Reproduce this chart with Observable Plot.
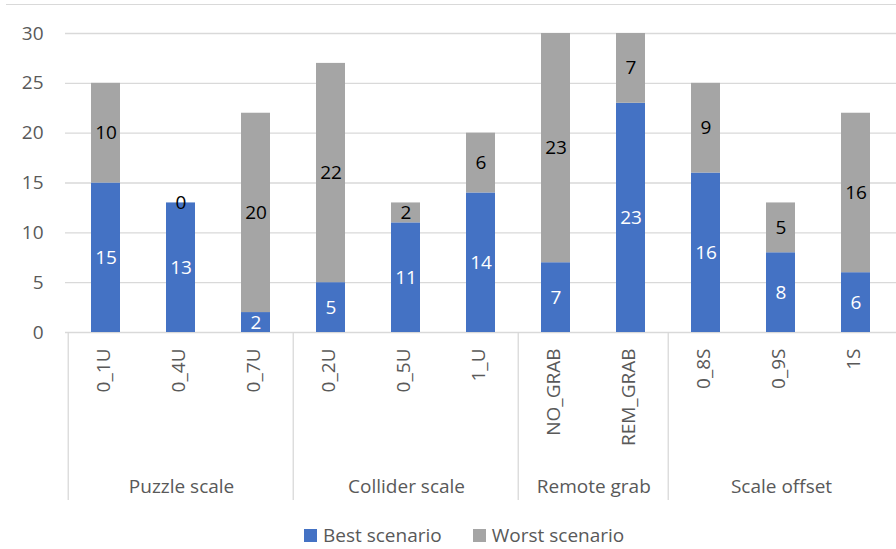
<!DOCTYPE html>
<html><head><meta charset="utf-8">
<script src="https://cdn.jsdelivr.net/npm/d3@7"></script>
<script src="https://cdn.jsdelivr.net/npm/@observablehq/plot@0.6"></script>
<style>
body{margin:0;background:#fff;font-family:"Open Sans",sans-serif;}
#wrap{position:relative;width:896px;height:549px;overflow:hidden;background:#fff;}
#chart{position:absolute;left:0;top:0;}
#topline{position:absolute;left:6px;right:0;top:4px;border-top:1.5px solid #d9d9d9;z-index:2;}
#legend{position:absolute;left:304px;top:522px;display:flex;align-items:center;font-size:19px;color:#595959;line-height:26px;}
#legend .item{display:flex;align-items:center;}
#legend .sw{width:13px;height:13px;display:inline-block;margin-right:6px;}
</style></head><body>
<div id="wrap"><div id="chart"></div><div id="topline"></div><div id="legend"></div></div>
<script>
const categories = ["0_1U","0_4U","0_7U","0_2U","0_5U","1_U","NO_GRAB","REM_GRAB","0_8S","0_9S","1S"];
const groupOf = ["Puzzle scale","Puzzle scale","Puzzle scale","Collider scale","Collider scale","Collider scale","Remote grab","Remote grab","Scale offset","Scale offset","Scale offset"];
const best = [15,13,2,5,11,14,7,23,16,8,6];
const worst = [10,0,20,22,2,6,23,7,9,5,16];
const groups = ["Puzzle scale","Collider scale","Remote grab","Scale offset"];
const seriesNames = ["Best scenario","Worst scenario"];
const seriesColors = ["#4472C4","#A5A5A5"];
const labelColors = ["white","black"];
const yTicks = [0,5,10,15,20,25,30];

const rows = categories.flatMap((c,i)=>[
  {cat:c, s:0, value:best[i]},
  {cat:c, s:1, value:worst[i]}
]);

const W=896,H=515,ML=65,MR=0,MT=33,MB=183;
const step=(W-ML-MR)/categories.length;
const lineColor="#d9d9d9";

const groupMarks = groups.flatMap(g=>{
  const cats = categories.filter((c,i)=>groupOf[i]===g);
  return [
    Plot.ruleX([cats[0]], {dx:-step/2, stroke:lineColor, strokeWidth:1.3, insetTop:H-MB-MT, insetBottom:-168}),
    Plot.text([g], {x:()=>cats[0], text:d=>d, dx:(cats.length-1)*step/2, frameAnchor:"bottom", dy:154, lineAnchor:"middle", textAnchor:"middle", fill:"#595959", fontSize:19})
  ];
});

const plot = Plot.plot({
  width:W,height:H,marginLeft:ML,marginRight:MR,marginTop:MT,marginBottom:MB,
  style:{fontFamily:"'Open Sans', sans-serif", fontSize:"19px", color:"#595959", background:"white", overflow:"visible"},
  x:{domain:categories, paddingInner:0.61, paddingOuter:0.305, label:null},
  y:{domain:[0,30], ticks:yTicks, label:null},
  marks:[
    Plot.gridY(yTicks.filter(t=>t>0), {stroke:lineColor, strokeOpacity:1, strokeWidth:1.3}),
    Plot.ruleY([0], {stroke:lineColor, strokeWidth:1.3}),
    Plot.barY(rows, {x:"cat", y:"value", z:"s", fill:d=>seriesColors[d.s]}),
    Plot.text(rows, Plot.stackY({x:"cat", y:"value", z:"s", text:"value", fill:d=>labelColors[d.s], fontSize:19})),
    Plot.axisY(yTicks, {tickSize:0, tickPadding:22, fontSize:19, fill:"#595959"}),
    Plot.axisX({tickRotate:-90, tickSize:0, tickPadding:16, fontSize:19, fill:"#595959", textAnchor:"end", dx:-2}),
    ...groupMarks
  ]
});
document.getElementById("chart").appendChild(plot);

const legend = document.getElementById("legend");
seriesNames.forEach((n,i)=>{
  const it=document.createElement("div"); it.className="item";
  if(i>0) it.style.marginLeft="31px";
  const sw=document.createElement("span"); sw.className="sw"; sw.style.background=seriesColors[i];
  const t=document.createElement("span"); t.textContent=n;
  it.appendChild(sw); it.appendChild(t); legend.appendChild(it);
});
</script>
</body></html>
